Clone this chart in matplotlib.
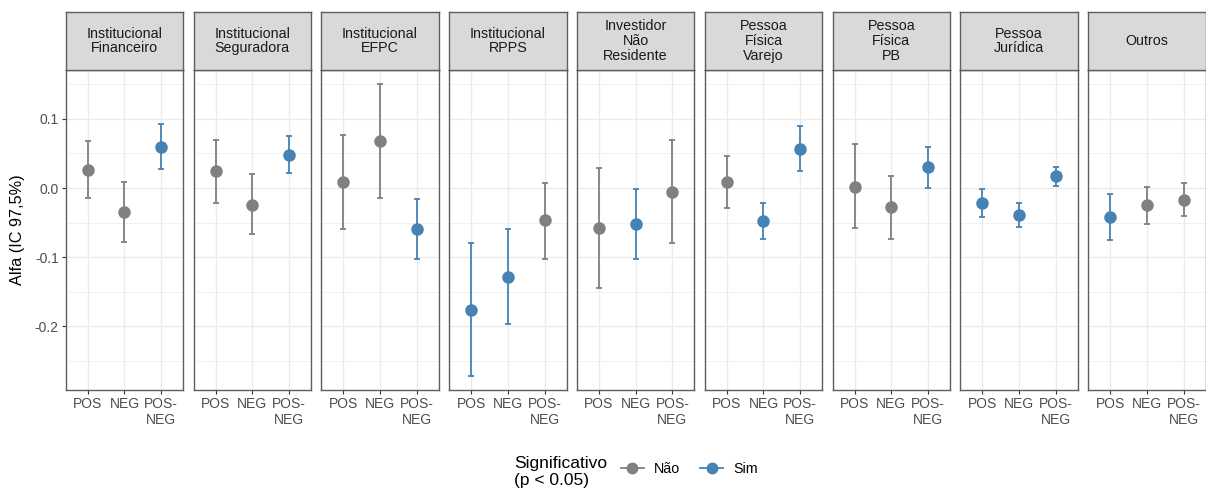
import numpy as np
import matplotlib.pyplot as plt
from matplotlib.lines import Line2D

plt.rcParams['font.family'] = ['Liberation Sans', 'DejaVu Sans']

# dados
segmentos = ["Institucional\nFinanceiro", "Institucional\nSeguradora", "Institucional\nEFPC",
             "Institucional\nRPPS", "Investidor\nNão\nResidente", "Pessoa\nFísica\nVarejo",
             "Pessoa\nFísica\nPB", "Pessoa\nJurídica", "Outros"]
categorias = ["POS", "NEG", "POS-\nNEG"]

alfa = [[0.026, -0.035, 0.060],
        [0.025, -0.024, 0.048],
        [0.008, 0.068, -0.060],
        [-0.176, -0.129, -0.047],
        [-0.058, -0.052, -0.006],
        [0.009, -0.048, 0.056],
        [0.002, -0.028, 0.030],
        [-0.022, -0.039, 0.017],
        [-0.042, -0.025, -0.017]]
ic_inf = [[-0.015, -0.078, 0.028],
          [-0.021, -0.067, 0.022],
          [-0.060, -0.014, -0.103],
          [-0.272, -0.197, -0.102],
          [-0.144, -0.103, -0.080],
          [-0.029, -0.074, 0.024],
          [-0.058, -0.074, 0.000],
          [-0.042, -0.056, 0.003],
          [-0.075, -0.052, -0.041]]
ic_sup = [[0.068, 0.008, 0.093],
          [0.070, 0.020, 0.075],
          [0.077, 0.150, -0.016],
          [-0.079, -0.060, 0.007],
          [0.029, -0.002, 0.069],
          [0.047, -0.022, 0.090],
          [0.063, 0.018, 0.060],
          [-0.001, -0.021, 0.031],
          [-0.008, 0.002, 0.007]]
significativo = [[0, 0, 1],
                 [0, 0, 1],
                 [0, 0, 1],
                 [1, 1, 0],
                 [0, 1, 0],
                 [0, 1, 1],
                 [0, 0, 1],
                 [1, 1, 1],
                 [1, 0, 0]]

cores = {0: '#808080', 1: '#4682B4'}
borda = '#5E5E5E'

W, H = 1206, 490
fig = plt.figure(figsize=(W / 100, H / 100), dpi=100)

left0 = 65.7
pw = 117.5
gap = 10.3
ybot, ytop = 390, 70
strip_top = 12

for i, seg in enumerate(segmentos):
    x0 = left0 + i * (pw + gap)
    ax = fig.add_axes([x0 / W, (H - ybot) / H, pw / W, (ybot - ytop) / H])
    xs = np.arange(1, 4)
    for j in range(3):
        y = alfa[i][j]
        c = cores[significativo[i][j]]
        ax.errorbar(xs[j], y, yerr=[[y - ic_inf[i][j]], [ic_sup[i][j] - y]],
                    fmt='o', color=c, ms=8, elinewidth=1.3, capsize=2.2,
                    capthick=1.3, zorder=3)
    ax.set_xlim(0.4, 3.6)
    ax.set_ylim(-0.2923, 0.1708)
    ax.set_xticks(xs)
    ax.set_xticklabels(categorias)
    ax.set_yticks([-0.2, -0.1, 0.0, 0.1])
    ax.set_yticks([-0.25, -0.15, -0.05, 0.05, 0.15], minor=True)
    ax.grid(which='major', color='#EBEBEB', lw=1.0, zorder=0)
    ax.grid(which='minor', axis='y', color='#EBEBEB', lw=0.5, zorder=0)
    ax.set_axisbelow(True)
    ax.tick_params(which='major', length=3, color='#333333', labelcolor='#4D4D4D',
                   labelsize=10, pad=2)
    ax.tick_params(which='minor', length=0)
    if i == 0:
        ax.set_yticklabels(["-0.2", "-0.1", "0.0", "0.1"])
    else:
        ax.tick_params(axis='y', left=False, labelleft=False)
    for s in ax.spines.values():
        s.set_color(borda)
        s.set_linewidth(1.0)

    st = fig.add_axes([x0 / W, (H - ytop) / H, pw / W, (ytop - strip_top) / H])
    st.set_facecolor('#D9D9D9')
    st.set_xticks([])
    st.set_yticks([])
    for s in st.spines.values():
        s.set_color(borda)
        s.set_linewidth(1.0)
    st.text(0.5, 0.5, seg, ha='center', va='center', fontsize=10.3,
            color='#1A1A1A', linespacing=1.05, transform=st.transAxes)

fig.text(18 / W, 1 - 230 / H, "Alfa (IC 97,5%)", rotation=90, ha='center',
         va='center', fontsize=11.7, color='black')

fig.text(514 / W, 1 - 472 / H, "Significativo\n(p < 0.05)", ha='left', va='center',
         fontsize=12.5, linespacing=1.1)
handles = [Line2D([], [], color=cores[k], marker='o', ms=7.5, lw=1.3) for k in (0, 1)]
fig.legend(handles, ['Não', 'Sim'], loc='center left',
           bbox_to_anchor=(621 / W, 1 - 469 / H), ncol=2, frameon=False,
           handlelength=1.6, handletextpad=0.7, columnspacing=1.4, fontsize=10.3,
           borderpad=0, borderaxespad=0)

fig.savefig('out.png', dpi=100)
